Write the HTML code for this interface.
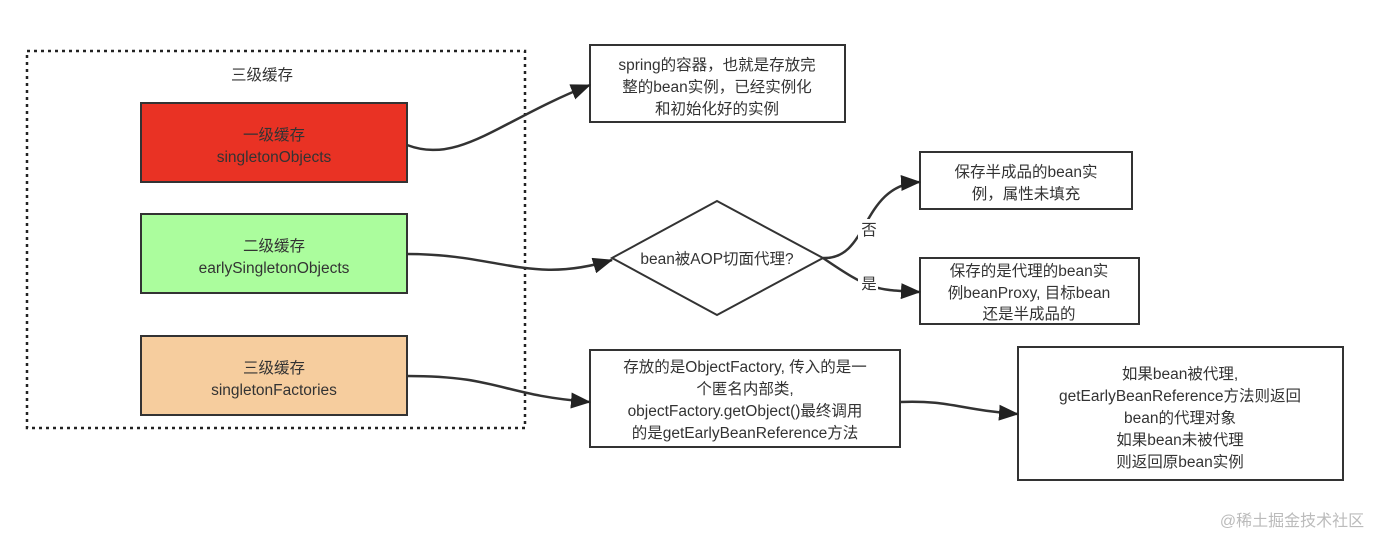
<!DOCTYPE html>
<html><head><meta charset="utf-8"><style>
html,body{margin:0;padding:0;background:#fff;}
svg{display:block;}
text{font-family:"Liberation Sans","Noto Sans CJK SC",sans-serif;font-size:15.5px;fill:#333;text-anchor:middle;}
</style></head><body>
<svg width="1378" height="536" viewBox="0 0 1378 536" xmlns="http://www.w3.org/2000/svg">
<defs><marker id="a" markerWidth="20" markerHeight="16" refX="19" refY="8" orient="auto" markerUnits="userSpaceOnUse"><path d="M0,0 L20,8 L0,16 z" fill="#222"/></marker></defs>
<rect x="27" y="51" width="498" height="377" fill="none" stroke="#222" stroke-width="2.5" stroke-dasharray="3,4"/>
<text x="262" y="80">三级缓存</text>
<rect x="141" y="103" width="266" height="79" fill="#e93224" stroke="#333" stroke-width="2"/>
<text x="274" y="140">一级缓存</text><text x="274" y="162">singletonObjects</text>
<rect x="141" y="214" width="266" height="79" fill="#abfd9d" stroke="#333" stroke-width="2"/>
<text x="274" y="251">二级缓存</text><text x="274" y="273">earlySingletonObjects</text>
<rect x="141" y="336" width="266" height="79" fill="#f6cd9e" stroke="#333" stroke-width="2"/>
<text x="274" y="373">三级缓存</text><text x="274" y="395">singletonFactories</text>
<rect x="590" y="45" width="255" height="77" fill="#fff" stroke="#333" stroke-width="2"/>
<text x="717" y="70">spring的容器，也就是存放完</text><text x="717" y="92">整的bean实例，已经实例化</text><text x="717" y="114">和初始化好的实例</text>
<path d="M612,258 L717,201 L823,258 L717,315 Z" fill="#fff" stroke="#333" stroke-width="2"/>
<text x="717" y="264">bean被AOP切面代理?</text>
<rect x="920" y="152" width="212" height="57" fill="#fff" stroke="#333" stroke-width="2"/>
<text x="1026" y="177">保存半成品的bean实</text><text x="1026" y="199">例，属性未填充</text>
<rect x="920" y="258" width="219" height="66" fill="#fff" stroke="#333" stroke-width="2"/>
<text x="1029" y="276">保存的是代理的bean实</text><text x="1029" y="298">例beanProxy, 目标bean</text><text x="1029" y="319">还是半成品的</text>
<rect x="590" y="350" width="310" height="97" fill="#fff" stroke="#333" stroke-width="2"/>
<text x="745" y="372">存放的是ObjectFactory, 传入的是一</text><text x="745" y="394">个匿名内部类,</text><text x="745" y="416">objectFactory.getObject()最终调用</text><text x="745" y="438">的是getEarlyBeanReference方法</text>
<rect x="1018" y="347" width="325" height="133" fill="#fff" stroke="#333" stroke-width="2"/>
<text x="1180" y="379">如果bean被代理,</text><text x="1180" y="401">getEarlyBeanReference方法则返回</text><text x="1180" y="423">bean的代理对象</text><text x="1180" y="445">如果bean未被代理</text><text x="1180" y="467">则返回原bean实例</text>
<g fill="none" stroke="#333" stroke-width="2.5">
<path d="M407,145 C460,165 500,120 590,85" marker-end="url(#a)"/>
<path d="M407,254 C500,254 530,285 612,260" marker-end="url(#a)"/>
<path d="M823,258 C870,260 860,185 920,182" marker-end="url(#a)"/>
<path d="M823,258 C870,290 875,290 920,292" marker-end="url(#a)"/>
<path d="M407,376 C500,376 500,395 590,402" marker-end="url(#a)"/>
<path d="M900,402 C950,400 960,410 1018,414" marker-end="url(#a)"/>
</g>
<rect x="858" y="219" width="20" height="20" fill="#fff"/><text x="869" y="235">否</text>
<rect x="858" y="274" width="20" height="20" fill="#fff"/><text x="869" y="289">是</text>
<text x="1292" y="526" style="fill:#bbb;font-size:16px">@稀土掘金技术社区</text>
</svg>
</body></html>
